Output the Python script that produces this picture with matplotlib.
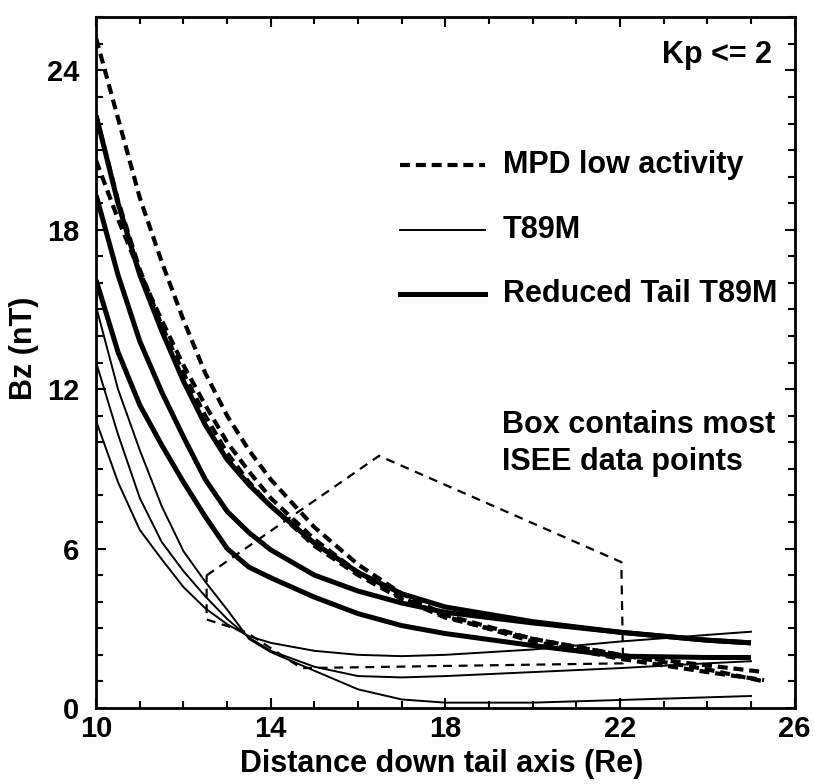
import matplotlib
matplotlib.use("Agg")
import matplotlib.pyplot as plt
from matplotlib.ticker import MultipleLocator

plt.rcParams['font.family'] = ['Liberation Sans', 'DejaVu Sans']
plt.rcParams['font.weight'] = 'bold'

#-------------------------------------------------------------------------------
# values (Bz in nT vs distance in Re)
x_sol = [10, 10.5, 11, 11.5, 12, 12.5, 13, 13.5, 14, 15, 16, 17, 18, 20, 22, 24, 25]
x_mpd = [10, 10.5, 11, 11.5, 12, 12.5, 13, 13.5, 14, 15, 16, 17, 18, 20, 22, 24, 25.3]

# MPD low activity (dashed)
mpd_1 = [25.2, 22.2, 19.2, 16.8, 14.6, 12.6, 11.0, 9.7, 8.6, 6.8, 5.4, 4.3, 3.5, 2.6, 2.0, 1.45, 1.0]
mpd_2 = [22.3, 19.1, 16.5, 14.4, 12.6, 11.0, 9.6, 8.5, 7.6, 6.1, 5.0, 4.1, 3.4, 2.6, 2.0, 1.6, 1.35]
mpd_3 = [20.6, 18.4, 16.4, 14.6, 12.9, 11.4, 10.0, 8.9, 7.9, 6.35, 5.1, 4.15, 3.45, 2.5, 1.85, 1.35, 1.05]

# T89M (thin)
t89_1 = [15.1, 12.0, 9.7, 7.6, 5.9, 4.75, 3.7, 2.6, 2.1, 1.4, 0.7, 0.32, 0.2, 0.2, 0.3, 0.4, 0.45]
t89_2 = [13.0, 10.3, 7.9, 6.25, 5.15, 4.2, 3.35, 2.65, 2.15, 1.55, 1.2, 1.15, 1.2, 1.35, 1.5, 1.68, 1.76]
t89_3 = [10.8, 8.5, 6.7, 5.6, 4.55, 3.75, 3.15, 2.7, 2.45, 2.15, 2.0, 1.95, 2.0, 2.2, 2.5, 2.75, 2.87]

# Reduced tail T89M (thick)
red_1 = [22.3, 19.0, 16.3, 14.2, 12.3, 10.65, 9.35, 8.4, 7.6, 6.2, 5.1, 4.3, 3.8, 3.25, 2.85, 2.55, 2.45]
red_2 = [19.3, 16.3, 13.8, 11.9, 10.2, 8.6, 7.4, 6.6, 5.95, 5.0, 4.4, 3.95, 3.6, 3.2, 2.85, 2.55, 2.45]
red_3 = [16.1, 13.4, 11.4, 9.9, 8.5, 7.2, 6.0, 5.3, 4.9, 4.17, 3.55, 3.1, 2.8, 2.35, 1.95, 1.9, 1.9]

# box containing most ISEE data points
box_x = [12.53, 16.48, 22.03, 22.07, 14.7, 13.43, 12.53, 12.53]
box_y = [4.99, 9.49, 5.49, 1.68, 1.5, 2.86, 3.33, 4.99]

#-------------------------------------------------------------------------------
fig = plt.figure(figsize=(8.15, 7.84), dpi=100)
ax = fig.add_axes([0.118, 0.097, 0.857, 0.881])

for y in (mpd_1, mpd_2, mpd_3):
    ax.plot(x_mpd, y, color='k', lw=3.0, ls=(0, (2.4, 1.4)))
for y in (t89_1, t89_2, t89_3):
    ax.plot(x_sol, y, color='k', lw=1.4)
for y in (red_1, red_2, red_3):
    ax.plot(x_sol, y, color='k', lw=3.6, solid_capstyle='butt')

ax.plot(box_x, box_y, color='k', lw=1.6, ls=(0, (4, 3)))

# hand made legend
ax.plot([0.435, 0.557], [0.786, 0.786], transform=ax.transAxes,
        color='k', lw=3.0, ls=(0, (2.4, 1.4)))
ax.plot([0.435, 0.557], [0.692, 0.692], transform=ax.transAxes, color='k', lw=1.4)
ax.plot([0.435, 0.557], [0.600, 0.600], transform=ax.transAxes, color='k', lw=3.6)
fs = 22
ax.text(0.582, 0.786, 'MPD low activity', transform=ax.transAxes, fontsize=fs,
        va='center', ha='left', fontweight='bold')
ax.text(0.582, 0.692, 'T89M', transform=ax.transAxes, fontsize=fs,
        va='center', ha='left', fontweight='bold')
ax.text(0.582, 0.600, 'Reduced Tail T89M', transform=ax.transAxes, fontsize=fs,
        va='center', ha='left', fontweight='bold')
ax.text(0.967, 0.945, 'Kp <= 2', transform=ax.transAxes, fontsize=fs,
        va='center', ha='right', fontweight='bold')
ax.text(0.581, 0.41, 'Box contains most', transform=ax.transAxes, fontsize=fs,
        va='center', ha='left', fontweight='bold')
ax.text(0.581, 0.356, 'ISEE data points', transform=ax.transAxes, fontsize=fs,
        va='center', ha='left', fontweight='bold')

ax.set_xlim(10, 26)
ax.set_ylim(0, 26)
ax.set_xticks([10, 14, 18, 22, 26])
ax.set_yticks([0, 6, 12, 18, 24])
ax.xaxis.set_minor_locator(MultipleLocator(1))
ax.yaxis.set_minor_locator(MultipleLocator(1))
ax.tick_params(which='both', direction='in', top=True, right=True, width=1.5)
ax.tick_params(which='major', length=7, labelsize=21)
ax.tick_params(which='minor', length=5)
ax.tick_params(axis='x', pad=5)
ax.tick_params(axis='y', pad=12)
for lab in ax.get_xticklabels() + ax.get_yticklabels():
    lab.set_fontweight('bold')
for s in ax.spines.values():
    s.set_linewidth(2)

ax.set_xlabel('Distance down tail axis (Re)', fontsize=fs, fontweight='bold')
ax.set_ylabel('Bz (nT)', fontsize=fs, fontweight='bold')
ax.xaxis.set_label_coords(0.495, -0.06)
ax.yaxis.set_label_coords(-0.082, 0.52)

plt.savefig('out.png', dpi=100)
